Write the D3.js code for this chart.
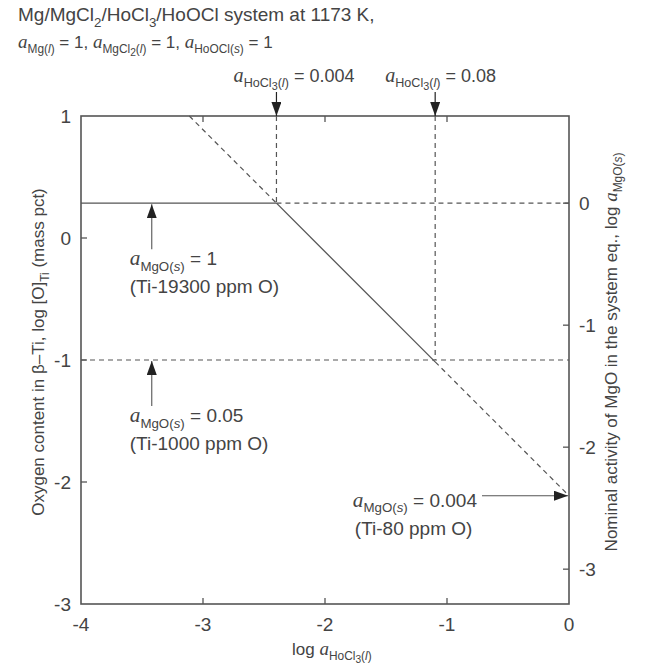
<!DOCTYPE html>
<html>
<head>
<meta charset="utf-8">
<script src="https://cdn.jsdelivr.net/npm/d3@7"></script>
<style>
  body { margin: 0; background: #fff; }
  svg { display: block; font-family: "Liberation Sans", Arial, sans-serif; }
</style>
</head>
<body>
<svg id="chart" width="649" height="666"></svg>
<script>
// chart values
const xTicks = [-4, -3, -2, -1, 0];
const yTicks = [1, 0, -1, -2, -3];
const yRightTicks = [0, -1, -2, -3];
const hocl3Act = [0.004, 0.08];          // marked HoCl3 activities
const oxygenPpm = [19300, 1000, 80];     // Ti-xxx ppm O
const mgoAct = [1, 0.05, 0.004];         // matching MgO activities

const W = 649, H = 666;
const margin = { left: 81, right: 80, top: 116, bottom: 62 };
const ink = "#444";
const lineCol = "#555";

const svg = d3.select("#chart");

const x = d3.scaleLinear().domain([-4, 0]).range([margin.left, W - margin.right]);
const y = d3.scaleLinear().domain([-3, 1]).range([H - margin.bottom, margin.top]);

// log[O] in mass pct, and the shift between the two y scales
const logO = oxygenPpm.map(p => Math.log10(p / 1e4));
const off = logO[0] - Math.log10(mgoAct[0]);
const yR = d3.scaleLinear().domain([-3 - off, 1 - off]).range(y.range());

const lx = hocl3Act.map(a => Math.log10(a));
// equilibrium line, slope -1 through (log 0.004, log[O] for a_MgO = 1)
const diag = xv => logO[0] - (xv - lx[0]);
const xTop = lx[0] - (1 - logO[0]);

// rich text: parts = [[text, kind]]  n normal, a italic serif, s sub, si sub italic, ss sub of sub
function rich(g, px, py, parts, size, anchor = "start", rotate = 0) {
  const t = g.append("text")
    .attr("x", px).attr("y", py)
    .attr("fill", ink)
    .attr("font-size", size)
    .attr("text-anchor", anchor);
  if (rotate) t.attr("transform", `rotate(${rotate},${px},${py})`);
  let down = 0;
  parts.forEach(([txt, kind]) => {
    let target = 0;
    if (kind === "s" || kind === "si") target = size * 0.3;
    if (kind === "ss") target = size * 0.45;
    const sp = t.append("tspan").text(txt);
    if (target !== down) { sp.attr("dy", target - down); down = target; }
    if (kind === "s" || kind === "si") sp.attr("font-size", size * 0.7);
    if (kind === "ss") sp.attr("font-size", size * 0.6);
    if (kind === "a") sp.attr("font-family", "Liberation Serif, serif").attr("font-style", "italic").attr("font-size", size * 1.12);
    if (kind === "si") sp.attr("font-style", "italic");
  });
  return t;
}

const aHo = [["a", "a"], ["HoCl", "s"], ["3", "ss"], ["(", "s"], ["l", "si"], [")", "s"]];
const aMgO = [["a", "a"], ["MgO(", "s"], ["s", "si"], [")", "s"]];

// arrow marker
svg.append("defs").append("marker")
  .attr("id", "head")
  .attr("viewBox", "0 0 14 10")
  .attr("refX", 14).attr("refY", 5)
  .attr("markerWidth", 14).attr("markerHeight", 10)
  .attr("markerUnits", "userSpaceOnUse")
  .attr("orient", "auto")
  .append("path").attr("d", "M0,0 L14,5 L0,10 Z").attr("fill", "#222");

const plot = svg.append("g");
const dash = "5,4";

function seg(x1, y1, x2, y2, dashed) {
  const l = plot.append("line")
    .attr("x1", x1).attr("y1", y1).attr("x2", x2).attr("y2", y2)
    .attr("stroke", lineCol)
    .attr("stroke-width", dashed ? 1.2 : 1.3);
  if (dashed) l.attr("stroke-dasharray", dash);
  return l;
}

// horizontal levels
seg(x(-4), y(logO[0]), x(lx[0]), y(logO[0]), false);
seg(x(lx[0]), y(logO[0]), x(0), y(logO[0]), true);
seg(x(-4), y(logO[1]), x(0), y(logO[1]), true);

// vertical markers
seg(x(lx[0]), y(1), x(lx[0]), y(logO[0]), true);
seg(x(lx[1]), y(1), x(lx[1]), y(logO[1]), true);

// diagonal: dashed, solid, dashed
seg(x(xTop), y(1), x(lx[0]), y(logO[0]), true);
seg(x(lx[0]), y(logO[0]), x(lx[1]), y(diag(lx[1])), false);
seg(x(lx[1]), y(diag(lx[1])), x(0), y(diag(0)), true);

// frame
svg.append("rect")
  .attr("x", x(-4)).attr("y", y(1))
  .attr("width", x(0) - x(-4)).attr("height", y(-3) - y(1))
  .attr("fill", "none").attr("stroke", lineCol).attr("stroke-width", 1.6);

// ticks, all pointing inward
const tl = 6;
const inner = xTicks.slice(1, -1);
const ticks = svg.append("g").attr("stroke", lineCol).attr("stroke-width", 1.3);
ticks.selectAll("line.bt").data(inner).join("line").attr("class", "bt")
  .attr("x1", d => x(d)).attr("x2", d => x(d))
  .attr("y1", y(-3)).attr("y2", y(-3) - tl);
ticks.selectAll("line.tt").data(inner).join("line").attr("class", "tt")
  .attr("x1", d => x(d)).attr("x2", d => x(d))
  .attr("y1", y(1)).attr("y2", y(1) + tl);
ticks.selectAll("line.lt").data(yTicks.slice(1, -1)).join("line").attr("class", "lt")
  .attr("x1", x(-4)).attr("x2", x(-4) + tl)
  .attr("y1", d => y(d)).attr("y2", d => y(d));
ticks.selectAll("line.rt").data(yRightTicks).join("line").attr("class", "rt")
  .attr("x1", x(0)).attr("x2", x(0) - tl)
  .attr("y1", d => yR(d)).attr("y2", d => yR(d));

// tick labels
const fmt = d => d < 0 ? "-" + Math.abs(d) : String(d);
svg.append("g").selectAll("text").data(xTicks).join("text")
  .attr("x", d => x(d)).attr("y", y(-3) + 27)
  .attr("text-anchor", "middle").attr("font-size", 19).attr("fill", ink)
  .text(fmt);
svg.append("g").selectAll("text").data(yTicks).join("text")
  .attr("x", x(-4) - 10).attr("y", d => y(d) + 7)
  .attr("text-anchor", "end").attr("font-size", 19).attr("fill", ink)
  .text(fmt);
svg.append("g").selectAll("text").data(yRightTicks).join("text")
  .attr("x", x(0) + 10).attr("y", d => yR(d) + 7)
  .attr("text-anchor", "start").attr("font-size", 19).attr("fill", ink)
  .text(fmt);

// axis titles
rich(svg, 292, 655, [["log ", "n"], ...aHo], 17);
rich(svg, 44, 352,
  [["Oxygen content in β–Ti, log [O]", "n"], ["Ti", "s"], [" (mass pct)", "n"]], 17, "middle", -90);
rich(svg, 617, 352,
  [["Nominal activity of MgO in the system eq., log ", "n"], ...aMgO], 17, "middle", -90);

// header
rich(svg, 18, 21,
  [["Mg/MgCl", "n"], ["2", "s"], ["/HoCl", "n"], ["3", "s"], ["/HoOCl system at 1173 K,", "n"]], 19);
rich(svg, 18, 48,
  [["a", "a"], ["Mg(", "s"], ["l", "si"], [")", "s"], [" = 1, ", "n"],
   ["a", "a"], ["MgCl", "s"], ["2", "ss"], ["(", "s"], ["l", "si"], [")", "s"], [" = 1, ", "n"],
   ["a", "a"], ["HoOCl(", "s"], ["s", "si"], [")", "s"], [" = 1", "n"]], 17);

// top arrows and labels
const ann = svg.append("g");
lx.forEach((v, i) => {
  ann.append("line")
    .attr("x1", x(v)).attr("x2", x(v))
    .attr("y1", y(1) - 24).attr("y2", y(1))
    .attr("stroke", "#222").attr("stroke-width", 1.2)
    .attr("marker-end", "url(#head)");
});
rich(ann, x(lx[0]) + 78, y(1) - 34, [...aHo, [" = " + hocl3Act[0], "n"]], 18, "end");
rich(ann, x(lx[1]) - 50, y(1) - 34, [...aHo, [" = " + hocl3Act[1], "n"]], 18, "start");

// left arrows: a_MgO = 1 and 0.05
const xArrow = -3.42;
[0, 1].forEach(i => {
  const yy = y(logO[i]);
  ann.append("line")
    .attr("x1", x(xArrow)).attr("x2", x(xArrow))
    .attr("y1", yy + 46).attr("y2", yy + 1)
    .attr("stroke", lineCol).attr("stroke-width", 1.1)
    .attr("marker-end", "url(#head)");
  rich(ann, x(xArrow) - 22, yy + 62, [...aMgO, [" = " + mgoAct[i], "n"]], 19);
  rich(ann, x(xArrow) - 22, yy + 90, [["(Ti-" + oxygenPpm[i] + " ppm O)", "n"]], 19);
});

// right arrow: a_MgO = 0.004
const yEnd = yR(Math.log10(mgoAct[2]));
const tailX = x(0) - 87;
ann.append("line")
  .attr("x1", tailX).attr("x2", x(0) - 1)
  .attr("y1", yEnd).attr("y2", yEnd)
  .attr("stroke", lineCol).attr("stroke-width", 1.1)
  .attr("marker-end", "url(#head)");
const r1 = rich(ann, tailX - 5, yEnd + 11, [...aMgO, [" = " + mgoAct[2], "n"]], 19, "end");
const left = r1.node().getBBox().x;
rich(ann, left + 2, yEnd + 39, [["(Ti-" + oxygenPpm[2] + " ppm O)", "n"]], 19);
</script>
</body>
</html>
